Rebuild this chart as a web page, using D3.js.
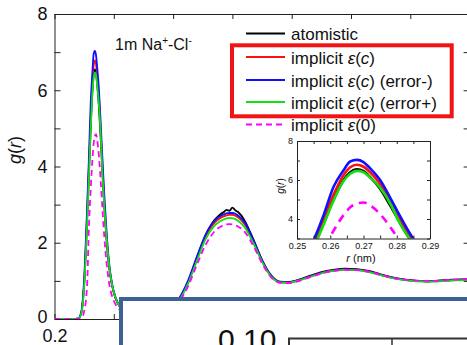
<!DOCTYPE html>
<html><head><meta charset="utf-8">
<script src="https://cdn.jsdelivr.net/npm/d3@7"></script>
<style>body{margin:0;background:#fff} svg{display:block}</style>
</head><body>
<svg id="c" width="467" height="345"></svg>
<script>
// ---------- data ----------
const rValues = [0.20,0.23,0.24,0.245,0.25,0.255,0.258,0.261,0.264,0.266,0.268,0.270,0.272,0.275,0.278,0.281,0.284,0.288,0.292,0.297,0.303,0.31,0.32,0.335,0.35,0.365,0.38,0.395,0.41,0.425,0.44,0.455,0.47,0.48,0.485,0.49,0.495,0.50,0.505,0.51,0.52,0.535,0.55,0.565,0.58,0.595,0.61,0.63,0.65,0.67,0.69,0.71,0.73,0.75,0.77,0.79,0.81,0.83,0.85,0.87,0.89,0.90];
const gAtomistic = [0,0,0.01,0.15,0.9,2.6,3.8,5.0,6.0,6.4,6.55,6.45,6.15,5.55,4.7,3.8,2.95,2.05,1.38,0.88,0.54,0.33,0.18,0.1,0.08,0.09,0.13,0.26,0.5,0.95,1.6,2.2,2.6,2.75,2.8,2.86,2.84,2.92,2.85,2.8,2.6,2.1,1.55,1.15,0.98,0.97,1.02,1.13,1.23,1.29,1.32,1.31,1.26,1.17,1.09,1.03,1.0,0.99,1.01,1.03,1.04,1.04];
const gImplicitC = [0,0,0.01,0.15,0.95,2.75,4.0,5.25,6.25,6.65,6.78,6.68,6.4,5.8,4.9,3.95,3.05,2.1,1.42,0.9,0.55,0.33,0.18,0.1,0.08,0.09,0.13,0.27,0.52,0.97,1.6,2.18,2.53,2.65,2.69,2.72,2.73,2.73,2.71,2.66,2.5,2.05,1.52,1.13,0.97,0.96,1.01,1.11,1.21,1.27,1.3,1.29,1.24,1.16,1.08,1.03,1.0,0.99,1.0,1.02,1.03,1.03];
const gErrorMinus = [0,0,0.01,0.17,1.05,2.9,4.2,5.65,6.5,6.95,7.03,6.92,6.6,6.0,5.1,4.15,3.25,2.25,1.48,0.93,0.56,0.34,0.18,0.1,0.08,0.09,0.13,0.28,0.54,1.0,1.63,2.22,2.58,2.7,2.74,2.77,2.78,2.78,2.76,2.71,2.55,2.08,1.54,1.14,0.97,0.96,1.01,1.11,1.21,1.27,1.3,1.29,1.24,1.16,1.08,1.03,1.0,0.99,1.0,1.02,1.03,1.03];
const gErrorPlus = [0,0,0.01,0.13,0.85,2.5,3.7,4.95,5.95,6.32,6.47,6.4,6.12,5.6,4.8,3.75,2.95,2.1,1.42,0.9,0.55,0.33,0.18,0.1,0.08,0.09,0.12,0.25,0.48,0.92,1.52,2.1,2.45,2.57,2.61,2.64,2.65,2.64,2.62,2.57,2.42,2.0,1.5,1.12,0.96,0.95,1.0,1.1,1.2,1.26,1.29,1.28,1.23,1.15,1.07,1.02,0.99,0.98,0.99,1.01,1.02,1.02];
const gImplicit0 = [0,0,0,0.02,0.2,0.9,2.4,3.4,4.2,4.6,4.8,4.85,4.7,4.25,3.6,2.85,2.15,1.45,0.95,0.6,0.38,0.24,0.14,0.08,0.07,0.08,0.11,0.22,0.45,0.85,1.42,1.95,2.3,2.42,2.46,2.48,2.49,2.48,2.46,2.42,2.3,1.93,1.46,1.1,0.95,0.94,0.99,1.09,1.19,1.26,1.29,1.28,1.24,1.16,1.08,1.03,1.01,1.0,1.01,1.03,1.04,1.04];

const seriesLabels = ["atomistic", "implicit ε(c)", "implicit ε(c) (error-)", "implicit ε(c) (error+)", "implicit ε(0)"];
const seriesColors = ["#000000", "#ff1010", "#1010ff", "#10e010", "#ff00ff"];
const mainYTicks = [0,1,2,3,4,5,6,7,8];
const mainYLabels = [0,2,4,6,8];
const mainXTicks = [0.2,0.3,0.4,0.5,0.6,0.7,0.8,0.9];
const mainXLabels = [0.2];
const insetXTicks = [0.25,0.255,0.26,0.265,0.27,0.275,0.28,0.285,0.29];
const insetXLabels = [0.25,0.26,0.27,0.28,0.29];
const insetYTicks = [3,4,5,6,7,8];
const insetYLabels = [4,6,8];
const overlayNumber = "0.10";

// ---------- drawing ----------
const FONT = "'Liberation Sans', Arial, Helvetica, sans-serif";
const svg = d3.select("#c").style("font-family", FONT);
const seriesData = [gAtomistic, gImplicitC, gErrorMinus, gErrorPlus, gImplicit0];

const x = d3.scaleLinear().domain([0.2, 0.9]).range([54.5, 469.6]);
const y = d3.scaleLinear().domain([0, 8]).range([319, 14]);

const near = (arr, d) => arr.some(v => Math.abs(v - d) < 1e-9);

const defs = svg.append("defs");
defs.append("clipPath").attr("id","mainClip").append("rect")
  .attr("x", x(0.2)).attr("y", y(8)).attr("width", x(0.9)-x(0.2)).attr("height", y(0)-y(8));

function styleAxis(g, fs) {
  g.select(".domain").attr("stroke", "#222").attr("stroke-width", 1);
  g.selectAll(".tick line").attr("stroke", "#222").attr("stroke-width", 1);
  g.selectAll(".tick text").attr("fill", "#111").style("font-size", fs + "px").style("font-family", FONT);
}

// main axes
svg.append("g").attr("transform", `translate(${x(0.2)},0)`)
  .call(d3.axisLeft(y).tickValues(mainYTicks).tickSizeInner(-6).tickSizeOuter(0).tickPadding(7)
    .tickFormat(d => near(mainYLabels, d) ? d3.format("d")(d) : ""))
  .call(g => styleAxis(g, 18))
  .call(g => g.selectAll(".tick text").filter(d => d === 0).attr("dy", "0.2em"));
svg.append("g").attr("transform", `translate(${x(0.9)},0)`)
  .call(d3.axisRight(y).tickValues(mainYTicks).tickSizeInner(-6).tickSizeOuter(0).tickFormat(""))
  .call(g => styleAxis(g, 18));
svg.append("g").attr("transform", `translate(0,${y(0)})`)
  .call(d3.axisBottom(x).tickValues(mainXTicks).tickSizeInner(-5).tickSizeOuter(0).tickPadding(10)
    .tickFormat(d => near(mainXLabels, d) ? d3.format(".1f")(d) : ""))
  .call(g => styleAxis(g, 18));
svg.append("g").attr("transform", `translate(0,${y(8)})`)
  .call(d3.axisTop(x).tickValues(mainXTicks).tickSizeInner(-5).tickSizeOuter(0).tickFormat(""))
  .call(g => styleAxis(g, 18));

// y label
const yl = svg.append("text").attr("transform", "translate(21,150) rotate(-90)")
  .attr("text-anchor", "middle").style("font-size", "18px").attr("fill", "#111");
yl.append("tspan").style("font-style", "italic").text("g");
yl.append("tspan").text("(");
yl.append("tspan").style("font-style", "italic").text("r");
yl.append("tspan").text(")");

// main curves
const line = d3.line().x((d, i) => x(rValues[i])).y(d => y(d)).curve(d3.curveMonotoneX);
const curves = svg.append("g").attr("clip-path", "url(#mainClip)");
seriesData.forEach((s, k) => {
  curves.append("path").attr("d", line(s)).attr("fill", "none")
    .attr("stroke", seriesColors[k]).attr("stroke-width", 1.8)
    .attr("stroke-dasharray", k === 4 ? "6,4" : null);
});

// title
const t = svg.append("text").attr("x", 115).attr("y", 50).style("font-size", "16px").attr("fill", "#111");
t.append("tspan").text("1m Na");
t.append("tspan").attr("dy", -6).style("font-size", "10px").text("+");
t.append("tspan").attr("dy", 6).text("-Cl");
t.append("tspan").attr("dy", -6).style("font-size", "10px").text("-");

// legend
const legY = [33.5, 57, 80, 102, 124.5];
seriesLabels.forEach((lab, k) => {
  svg.append("line").attr("x1", 246).attr("x2", 285).attr("y1", legY[k]).attr("y2", legY[k])
    .attr("stroke", seriesColors[k]).attr("stroke-width", 1.8)
    .attr("stroke-dasharray", k === 4 ? "6,4" : null);
  const tx = svg.append("text").attr("x", 291).attr("y", legY[k] + 6.5)
    .style("font-size", "17px").attr("fill", "#111");
  const parts = lab.split(/(ε|\(c\)|\(0\))/).filter(p => p !== "");
  parts.forEach(p => {
    if (p === "ε") tx.append("tspan").style("font-style", "italic").text("ε");
    else if (p === "(c)") { tx.append("tspan").text("("); tx.append("tspan").style("font-style","italic").text("c"); tx.append("tspan").text(")"); }
    else tx.append("tspan").text(p);
  });
});
svg.append("rect").attr("x", 232).attr("y", 45.3).attr("width", 219.7).attr("height", 71)
  .attr("fill", "none").attr("stroke", "#f01414").attr("stroke-width", 4);

// inset
const ix = d3.scaleLinear().domain([0.25, 0.29]).range([297, 430]);
const iy = d3.scaleLinear().domain([3, 8]).range([238.5, 141]);
defs.append("clipPath").attr("id","insetClip").append("rect")
  .attr("x", ix(0.25)).attr("y", iy(8)).attr("width", ix(0.29)-ix(0.25)).attr("height", iy(3)-iy(8));
svg.append("rect").attr("x", ix(0.25)).attr("y", iy(8)).attr("width", ix(0.29)-ix(0.25)).attr("height", iy(3)-iy(8)).attr("fill", "#fff");
const iline = d3.line().x((d, i) => ix(rValues[i])).y(d => iy(d)).curve(d3.curveMonotoneX);
const icurves = svg.append("g").attr("clip-path", "url(#insetClip)");
seriesData.forEach((s, k) => {
  icurves.append("path").attr("d", iline(s)).attr("fill", "none")
    .attr("stroke", seriesColors[k]).attr("stroke-width", 2.6)
    .attr("stroke-dasharray", k === 4 ? "8,6" : null);
});
svg.append("g").attr("transform", `translate(0,${iy(3)})`)
  .call(d3.axisBottom(ix).tickValues(insetXTicks).tickSizeInner(-3).tickSizeOuter(0).tickPadding(4)
    .tickFormat(d => near(insetXLabels, d) ? d3.format(".2f")(d) : ""))
  .call(g => styleAxis(g, 9));
svg.append("g").attr("transform", `translate(0,${iy(8)})`)
  .call(d3.axisTop(ix).tickValues(insetXTicks).tickSizeInner(-3).tickSizeOuter(0).tickFormat(""))
  .call(g => styleAxis(g, 9));
svg.append("g").attr("transform", `translate(${ix(0.25)},0)`)
  .call(d3.axisLeft(iy).tickValues(insetYTicks).tickSizeInner(-3).tickSizeOuter(0).tickPadding(4)
    .tickFormat(d => near(insetYLabels, d) ? d3.format("d")(d) : ""))
  .call(g => styleAxis(g, 9));
svg.append("g").attr("transform", `translate(${ix(0.29)},0)`)
  .call(d3.axisRight(iy).tickValues(insetYTicks).tickSizeInner(-3).tickSizeOuter(0).tickFormat(""))
  .call(g => styleAxis(g, 9));
const igl = svg.append("text").attr("transform", "translate(284,186) rotate(-90)")
  .attr("text-anchor", "middle").style("font-size", "10px").attr("fill", "#111");
igl.append("tspan").style("font-style", "italic").text("g");
igl.append("tspan").text("(");
igl.append("tspan").style("font-style", "italic").text("r");
igl.append("tspan").text(")");
const irl = svg.append("text").attr("x", 361).attr("y", 262)
  .attr("text-anchor", "middle").style("font-size", "11px").attr("fill", "#111");
irl.append("tspan").style("font-style", "italic").text("r");
irl.append("tspan").text(" (nm)");

// overlay panel at bottom right (part of the reference picture)
svg.append("rect").attr("x", 121).attr("y", 299).attr("width", 400).attr("height", 100)
  .attr("fill", "#fff").attr("stroke", "#3d6192").attr("stroke-width", 4);
svg.append("text").attr("x", 218).attr("y", 350).style("font-size", "30px").attr("fill", "#111").text(overlayNumber);
svg.append("path").attr("d", "M289,360V338.5H470").attr("fill", "none").attr("stroke", "#333").attr("stroke-width", 2);
svg.append("path").attr("d", "M392,338.5V345").attr("fill", "none").attr("stroke", "#333").attr("stroke-width", 1.5);
</script>
</body></html>
